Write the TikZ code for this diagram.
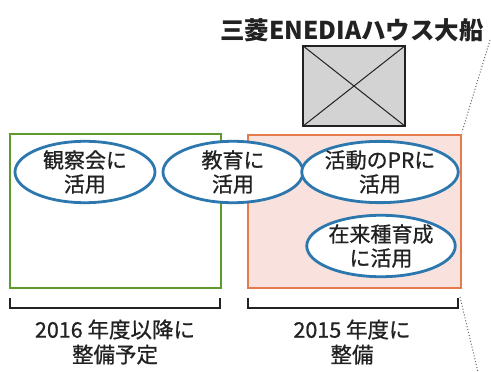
\documentclass[tikz,border=0pt]{standalone}
\usepackage{fontspec}
\newfontfamily\jp{Noto Sans CJK JP}
\newfontfamily\jpm[FakeBold=0.8]{Noto Sans CJK JP}
\usetikzlibrary{shapes.geometric}
\definecolor{grn}{HTML}{5E9A2E}
\definecolor{org}{HTML}{E57A4C}
\definecolor{pnk}{HTML}{F9E2DD}
\definecolor{blu}{HTML}{2B77AE}
\definecolor{gry}{HTML}{D3D3D3}
\definecolor{txt}{HTML}{222222}
\begin{document}
\begin{tikzpicture}[x=1pt,y=-1pt,
  area/.style={draw, line width=2.5pt, inner sep=0pt},
  useoval/.style={ellipse, draw=blu, fill=white, line width=2.8pt, minimum width=140pt, minimum height=58pt, inner sep=0pt, align=center, text=txt, font=\jpm\fontsize{21}{24}\selectfont},
  yearlabel/.style={align=center, text=txt, font=\jpm\fontsize{21.5}{25}\selectfont},
  brk/.style={draw=txt, line width=1.2pt},
  dots/.style={draw=gray!80!black, dotted, line width=1pt}]
\useasboundingbox (0,0) rectangle (491,372);
\fill[white] (0,0) rectangle (491,372);
\node[text=txt, font=\jp\bfseries\fontsize{24.5}{28}\selectfont] (title) at (352,30) {三菱ENEDIAハウス大船};
\node[draw=txt, fill=gry, line width=1.2pt, minimum width=102pt, minimum height=80pt, inner sep=0pt] (house) at (354,86) {};
\draw[txt, line width=1pt] (house.north west) -- (house.south east);
\draw[txt, line width=1pt] (house.north east) -- (house.south west);
\node[area, draw=grn, minimum width=211pt, minimum height=154pt] (future) at (115.5,211) {};
\node[area, draw=org, fill=pnk, minimum width=213pt, minimum height=153pt] (done) at (354.5,211.5) {};
\node[useoval] (o1) at (85,172) {観察会に\\活用};
\node[useoval] (o2) at (233,172) {教育に\\活用};
\node[useoval] (o3) at (380,172) {活動のPRに\\活用};
\node[useoval] (o4) at (381,246) {在来種育成\\に活用};
\coordinate (b1a) at (10,298);
\coordinate (b1b) at (220,298);
\coordinate (b2a) at (248,298);
\coordinate (b2b) at (458,298);
\draw[brk] (b1a) -- ++(0,10) -| (b1b);
\draw[brk] (b2a) -- ++(0,10) -| (b2b);
\node[yearlabel] (l1) at (115,342) {2016 年度以降に\\整備予定};
\node[yearlabel] (l2) at (352,342) {2015 年度に\\整備};
\coordinate (d1) at (490,40);
\coordinate (d2) at (462,132);
\coordinate (d3) at (460,297);
\coordinate (d4) at (478,372);
\draw[dots] (d1) -- (d2);
\draw[dots] (d3) -- (d4);
\end{tikzpicture}
\end{document}
